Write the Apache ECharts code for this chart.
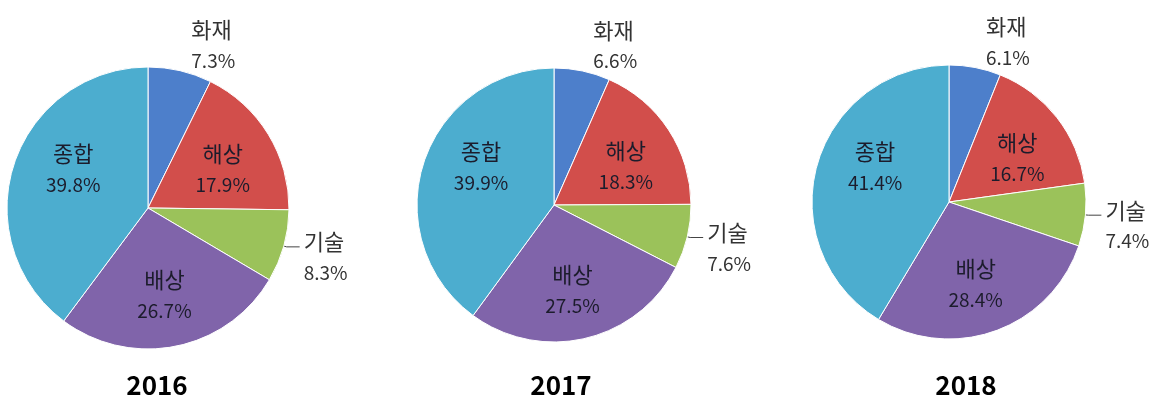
<!DOCTYPE html>
<html>
<head>
<meta charset="utf-8">
<script src="https://cdn.jsdelivr.net/npm/echarts@6/dist/echarts.min.js"></script>
<style>
  html, body { margin: 0; padding: 0; background: #fff; }
  #chart { width: 1160px; height: 403px; }
</style>
</head>
<body>
<div id="chart"></div>
<script>
// slice order, clockwise from 12 o'clock
const categories = ["화재", "해상", "기술", "배상", "종합"];
const years = ["2016", "2017", "2018"];
const share2016 = [7.3, 17.9, 8.3, 26.7, 39.8];
const share2017 = [6.6, 18.3, 7.6, 27.5, 39.9];
const share2018 = [6.1, 16.7, 7.4, 28.4, 41.4];
const shares = [share2016, share2017, share2018];

const colors = ["#4d7fcb", "#d24e4b", "#9bc25a", "#8064aa", "#4cadcf"];
const font = "'Noto Sans CJK KR', 'Noto Sans', sans-serif";

// pie placement for each year
const pies = [
  { center: [148, 208], radius: 141, titleX: 157 },
  { center: [554, 205], radius: 137, titleX: 561 },
  { center: [949, 202], radius: 137, titleX: 966 },
];

// label placement per slice (roughly what excel's best fit did).
// spacer lines (s, s2) nudge the text up/down, padding nudges it sideways
const labelStyle = {
  화재: {
    lines: (n, v) => `{n|${n}}\n{v|${v}}\n{s|}`,
    label: { position: "outside", padding: [0, 0, 0, 4], color: "#333" },
    labelLine: { show: false, length: 10, length2: 0 },
  },
  해상: {
    lines: (n, v) => `{n|${n}}\n{v|${v}}`,
    label: { position: "inside", padding: [0, 0, 0, 24] },
  },
  기술: {
    lines: (n, v) => `{s2|}\n{n|${n}}\n{v|${v}}`,
    label: { position: "outside", color: "#333", distanceToLabelLine: 4 },
    labelLine: { show: true, length: 3, length2: 13, lineStyle: { color: "#444", width: 1 } },
  },
  배상: {
    lines: (n, v) => `{s|}\n{n|${n}}\n{v|${v}}`,
    label: { position: "inside", padding: [0, 0, 0, 4] },
  },
  종합: {
    lines: (n, v) => `{n|${n}}\n{v|${v}}\n{s|}`,
    label: { position: "inside", padding: [0, 10, 0, 0] },
  },
};

function makeSeries(values, i) {
  const p = pies[i];
  return {
    type: "pie",
    name: years[i],
    center: p.center,
    radius: p.radius,
    startAngle: 90,
    clockwise: true,
    avoidLabelOverlap: false,
    animation: false,
    itemStyle: { borderColor: "#fff", borderWidth: 1 },
    label: {
      fontFamily: font,
      color: "#1c1c2c",
      formatter: (d) => labelStyle[d.name].lines(d.name, d.value.toFixed(1) + "%"),
      rich: {
        n: { fontSize: 22, lineHeight: 31, fontFamily: font },
        v: { fontSize: 19, lineHeight: 31, fontFamily: font },
        s: { fontSize: 1, lineHeight: 31, height: 31 },
        s2: { fontSize: 1, lineHeight: 21, height: 21 },
      },
    },
    labelLine: { show: false },
    emphasis: { disabled: true },
    data: categories.map((name, k) => ({
      name: name,
      value: values[k],
      itemStyle: { color: colors[k] },
      label: labelStyle[name].label,
      labelLine: labelStyle[name].labelLine || { show: false },
    })),
  };
}

const option = {
  backgroundColor: "#fff",
  title: years.map((y, i) => ({
    text: y,
    left: pies[i].titleX,
    top: 372,
    padding: 0,
    textAlign: "center",
    textStyle: { fontSize: 26, fontWeight: "bold", color: "#000", fontFamily: font },
  })),
  series: shares.map(makeSeries),
};

const chart = echarts.init(document.getElementById("chart"));
chart.setOption(option);
</script>
</body>
</html>
